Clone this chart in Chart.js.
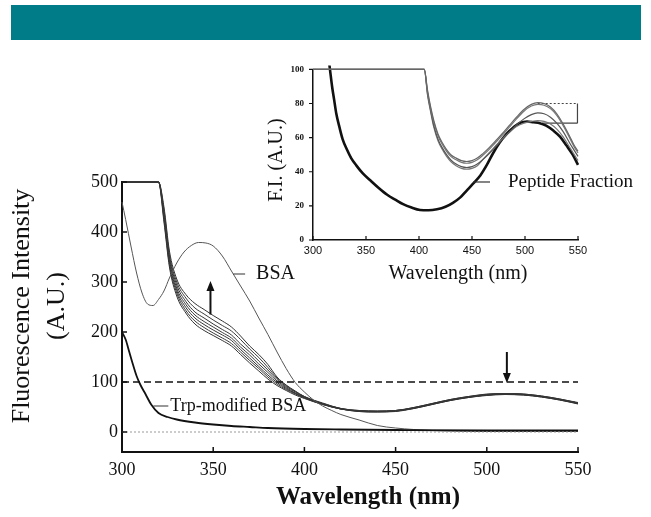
<!DOCTYPE html>
<html>
<head>
<meta charset="utf-8">
<script src="https://cdn.jsdelivr.net/npm/chart.js@4.4.1/dist/chart.umd.min.js"></script>
<style>
  body { margin: 0; background: #fff; }
  #wrap { position: relative; width: 651px; height: 517px; overflow: hidden; }
  #bar { position: absolute; left: 11px; top: 5px; width: 630px; height: 35px; background: #007b88; }
  #main { position: absolute; left: 0; top: 0; }
  #inset { position: absolute; left: 250px; top: 55px; }
</style>
</head>
<body>
<div id="wrap">
  <div id="bar"></div>
  <canvas id="main" width="651" height="517"></canvas>
  <canvas id="inset" width="396" height="235"></canvas>
</div>
<script>
// ---- main plot data ----
const wavelengths = [300, 320, 323, 326, 330, 335, 340, 345, 350, 355, 360, 365, 370, 375, 380, 385, 390, 395, 400, 410, 420, 430, 440, 450, 460, 470, 480, 490, 500, 510, 520, 530, 540, 550];
const peptide1 = [500, 500, 420, 330, 272, 238, 216, 203, 193, 183, 172, 155, 138, 122, 106, 93, 83, 74, 67, 55, 46, 41, 40, 41, 47, 55, 63, 69, 73, 75, 74, 70, 64, 56];
const peptide2 = [500, 500, 425, 335, 278, 243, 222, 209, 198, 188, 177, 160, 143, 127, 110, 96, 85, 76, 68, 55, 46, 41, 40, 42, 47, 55, 63, 69, 74, 75, 74, 70, 64, 57];
const peptide3 = [500, 500, 430, 340, 283, 249, 228, 215, 204, 194, 183, 165, 148, 131, 114, 99, 87, 77, 69, 56, 46, 42, 41, 42, 48, 56, 64, 70, 74, 76, 75, 71, 65, 57];
const peptide4 = [500, 500, 435, 345, 288, 255, 234, 221, 210, 199, 188, 170, 154, 136, 119, 102, 89, 78, 69, 56, 46, 42, 41, 42, 48, 56, 64, 70, 74, 76, 75, 71, 65, 58];
const peptide5 = [500, 500, 440, 350, 294, 261, 240, 228, 216, 205, 194, 176, 160, 142, 124, 105, 91, 80, 70, 57, 47, 42, 41, 43, 48, 56, 64, 70, 75, 76, 75, 71, 65, 58];
const peptide6 = [500, 500, 445, 355, 300, 268, 248, 236, 224, 213, 202, 185, 166, 149, 129, 108, 93, 81, 71, 57, 47, 43, 42, 43, 49, 57, 65, 71, 75, 77, 76, 72, 66, 58];
const peptide7 = [500, 500, 450, 362, 306, 275, 257, 245, 233, 222, 210, 192, 172, 155, 135, 110, 94, 82, 71, 58, 47, 43, 42, 43, 49, 57, 65, 71, 76, 77, 76, 72, 66, 59];

const bsaWavelengths = [300, 302, 305, 308, 311, 314, 317, 320, 323, 326, 330, 334, 338, 342, 346, 350, 355, 360, 365, 370, 375, 380, 385, 390, 395, 400, 405, 410, 415, 420, 430, 440, 450, 460, 470, 480, 500, 550];
const bsaIntensity = [460, 425, 370, 318, 278, 256, 253, 265, 282, 308, 338, 360, 373, 379, 378, 372, 352, 322, 292, 262, 228, 195, 160, 127, 99, 80, 64, 52, 43, 35, 24, 13, 8, 5, 3, 2, 1, 1];

const trpWavelengths = [300, 302, 304, 306, 308, 310, 313, 316, 320, 325, 330, 340, 350, 360, 370, 380, 400, 420, 450, 500, 550];
const trpIntensity = [200, 185, 160, 135, 112, 95, 75, 55, 38, 30, 25, 19, 15, 12, 10, 8, 6, 5, 4, 3, 3];

const refWavelengths = [300, 550];
const dashedLevel = [100, 100];
const zeroLevel = [0, 0];
const mainYTicks = [0, 100, 200, 300, 400, 500];

// ---- inset data ----
const insetThickX = [313, 316, 318, 320, 322, 325, 328, 332, 336, 341, 347, 354, 362, 370, 378, 385, 393, 401, 409, 417, 425, 432, 439, 445, 451, 458, 464, 470, 476, 483, 489, 495, 502, 508, 514, 520, 527, 533, 539, 545, 550];
const insetThickY = [115, 100, 90, 82, 74, 66, 59, 53, 48, 43.6, 39, 35, 30.5, 26.5, 23.5, 21, 19, 17.6, 17.4, 18, 19.5, 21.8, 25, 29, 33, 38, 44, 51, 57, 62.5, 66, 68.6, 69.5, 69, 68.5, 67, 64, 60.6, 55.5, 50, 44];
const insetGrayX = [300, 405, 408, 411, 414, 418, 422, 426, 430, 435, 440, 445, 450, 455, 460, 466, 472, 478, 485, 492, 499, 506, 512, 518, 524, 530, 536, 542, 546, 550];
const insetGray1 = [100, 100, 88, 78, 70, 62, 57, 53, 50, 48, 46.5, 46, 46.5, 48, 50.5, 54, 58, 62, 67, 72, 76.5, 79.5, 80.5, 80, 78, 74, 68, 61, 56, 52];
const insetGray2 = [100, 100, 87, 77, 69, 61, 56, 52, 49, 47, 45.5, 45, 45.5, 47, 49.5, 53, 57, 61, 66, 71, 75.5, 78.5, 79.5, 79, 77, 73, 67, 60, 55, 51];
const insetGray3 = [100, 100, 86, 76, 67, 59, 54, 50, 47, 44.5, 43, 42.5, 43, 44.5, 47, 50.5, 54.5, 58.5, 63, 67.5, 71, 73.5, 74.5, 74, 72, 68.5, 63.5, 57, 53, 49];
const insetGray4 = [100, 100, 85, 75, 66, 58, 53, 49, 46, 43.5, 42, 41.5, 42, 43.5, 47, 51, 55, 59, 63, 66.5, 68.5, 69.5, 70, 69.5, 68, 65, 60.5, 54.5, 50.5, 46.5];
const bracketTopX = [512, 549.5], bracketTopY = [80, 80];
const bracketSideX = [549.5, 549.5], bracketSideY = [80, 68.5];
const bracketLowX = [516, 549.5], bracketLowY = [68.5, 68.5];

const pts = (xs, ys) => xs.map((x, i) => ({ x: x, y: ys[i] }));
const serif = '"Liberation Serif", "Times New Roman", serif';

function line(data, color, width, dash) {
  return {
    data: data,
    borderColor: color,
    borderWidth: width,
    borderDash: dash || [],
    pointRadius: 0,
    fill: false,
    cubicInterpolationMode: 'monotone',
    clip: 4
  };
}

function arrow(ctx, x, y0, y1) {
  const dir = y1 > y0 ? 1 : -1;
  ctx.beginPath();
  ctx.moveTo(x, y0);
  ctx.lineTo(x, y1 - dir * 8);
  ctx.stroke();
  ctx.beginPath();
  ctx.moveTo(x, y1);
  ctx.lineTo(x - 4, y1 - dir * 10);
  ctx.lineTo(x + 4, y1 - dir * 10);
  ctx.closePath();
  ctx.fill();
}

// inward / outward tick marks
const tickMarks = {
  id: 'tickMarks',
  afterDraw(chart, args, opts) {
    const { ctx, chartArea } = chart;
    const x = chart.scales.x, y = chart.scales.y;
    ctx.save();
    ctx.strokeStyle = '#111';
    ctx.lineWidth = opts.width;
    ctx.beginPath();
    x.ticks.forEach(t => {
      const px = x.getPixelForValue(t.value);
      ctx.moveTo(px, chartArea.bottom);
      ctx.lineTo(px, chartArea.bottom - opts.xLen);
    });
    y.ticks.forEach(t => {
      const py = y.getPixelForValue(t.value);
      ctx.moveTo(chartArea.left, py);
      ctx.lineTo(chartArea.left + opts.yLen, py);
    });
    ctx.stroke();
    ctx.restore();
  }
};

const mainNotes = {
  id: 'mainNotes',
  afterDraw(chart) {
    const { ctx } = chart;
    const x = chart.scales.x, y = chart.scales.y;
    ctx.save();
    ctx.strokeStyle = '#111';
    ctx.fillStyle = '#111';
    ctx.lineWidth = 2;
    arrow(ctx, x.getPixelForValue(348.5), y.getPixelForValue(235), y.getPixelForValue(302));
    arrow(ctx, x.getPixelForValue(511), y.getPixelForValue(160), y.getPixelForValue(98));

    ctx.lineWidth = 1.2;
    ctx.strokeStyle = '#333';
    ctx.beginPath();
    ctx.moveTo(x.getPixelForValue(361), y.getPixelForValue(316));
    ctx.lineTo(x.getPixelForValue(367.5), y.getPixelForValue(316));
    ctx.moveTo(x.getPixelForValue(317.2), y.getPixelForValue(52));
    ctx.lineTo(x.getPixelForValue(325.4), y.getPixelForValue(52));
    ctx.stroke();

    ctx.textBaseline = 'middle';
    ctx.textAlign = 'left';
    ctx.font = '20px ' + serif;
    ctx.fillText('BSA', x.getPixelForValue(373.5), y.getPixelForValue(316));
    ctx.font = '18px ' + serif;
    ctx.fillText('Trp-modified BSA', x.getPixelForValue(326.5), y.getPixelForValue(51));

    // axis titles
    ctx.textAlign = 'center';
    ctx.font = 'bold 25px ' + serif;
    ctx.fillText('Wavelength (nm)', 368, 498);
    ctx.font = '26px ' + serif;
    ctx.translate(22, 306);
    ctx.rotate(-Math.PI / 2);
    ctx.fillText('Fluorescence Intensity', 0, 0);
    ctx.fillText('(A.U.)', 0, 35);
    ctx.restore();
  }
};

new Chart(document.getElementById('main'), {
  type: 'line',
  data: {
    datasets: [
      line(pts(refWavelengths, zeroLevel), '#999', 1, [2, 2]),
      line(pts(refWavelengths, dashedLevel), '#111', 1.5, [7, 4]),
      line(pts(trpWavelengths, trpIntensity), '#111', 1.8),
      line(pts(bsaWavelengths, bsaIntensity), '#555', 1),
      line(pts(wavelengths, peptide1), '#333', 1),
      line(pts(wavelengths, peptide2), '#3a3a3a', 1),
      line(pts(wavelengths, peptide3), '#333', 1),
      line(pts(wavelengths, peptide4), '#3a3a3a', 1),
      line(pts(wavelengths, peptide5), '#333', 1),
      line(pts(wavelengths, peptide6), '#3a3a3a', 1),
      line(pts(wavelengths, peptide7), '#333', 1)
    ]
  },
  options: {
    responsive: false,
    animation: false,
    layout: { padding: { top: 182, right: 73, left: 0, bottom: 0 } },
    plugins: {
      legend: { display: false },
      tooltip: { enabled: false },
      tickMarks: { width: 1.5, xLen: 5, yLen: 5 }
    },
    scales: {
      x: {
        type: 'linear', min: 300, max: 550,
        ticks: { stepSize: 50, padding: 7, color: '#111', font: { family: serif, size: 18 } },
        grid: { display: false, drawTicks: false },
        border: { display: true, color: '#111', width: 2 },
        afterFit: s => { s.height = 65; }
      },
      y: {
        type: 'linear', min: -40, max: 500,
        afterBuildTicks: s => { s.ticks = mainYTicks.map(v => ({ value: v })); },
        ticks: { padding: 4, color: '#111', font: { family: serif, size: 18 } },
        grid: { display: false, drawTicks: false },
        border: { display: true, color: '#111', width: 2 },
        afterFit: s => { s.width = 122; }
      }
    }
  },
  plugins: [tickMarks, mainNotes]
});

const insetNotes = {
  id: 'insetNotes',
  afterDraw(chart) {
    const { ctx } = chart;
    const x = chart.scales.x, y = chart.scales.y;
    ctx.save();
    ctx.strokeStyle = '#333';
    ctx.lineWidth = 1.2;
    ctx.beginPath();
    ctx.moveTo(x.getPixelForValue(451), y.getPixelForValue(34));
    ctx.lineTo(x.getPixelForValue(467), y.getPixelForValue(34));
    ctx.stroke();
    ctx.fillStyle = '#111';
    ctx.textBaseline = 'middle';
    ctx.font = '19px ' + serif;
    ctx.fillText('Peptide Fraction', x.getPixelForValue(484), y.getPixelForValue(34));

    ctx.textAlign = 'center';
    ctx.font = '20px ' + serif;
    ctx.fillText('Wavelength (nm)', 208, 219);
    ctx.translate(27, 105);
    ctx.rotate(-Math.PI / 2);
    ctx.fillText('F.I. (A.U.)', 0, 0);
    ctx.restore();
  }
};

new Chart(document.getElementById('inset'), {
  type: 'line',
  data: {
    datasets: [
      line(pts(insetGrayX, insetGray1), '#666', 1.2),
      line(pts(insetGrayX, insetGray2), '#777', 1.2),
      line(pts(insetGrayX, insetGray3), '#555', 1.2),
      line(pts(insetGrayX, insetGray4), '#777', 1.2),
      line(pts(insetThickX, insetThickY), '#111', 2.6),
      line(pts(bracketTopX, bracketTopY), '#444', 1, [2, 2]),
      line(pts(bracketSideX, bracketSideY), '#444', 1.2),
      line(pts(bracketLowX, bracketLowY), '#444', 1.2)
    ]
  },
  options: {
    responsive: false,
    animation: false,
    layout: { padding: { top: 9, right: 68, left: 0, bottom: 0 } },
    plugins: {
      legend: { display: false },
      tooltip: { enabled: false },
      tickMarks: { width: 1.2, xLen: 4, yLen: -4 }
    },
    scales: {
      x: {
        type: 'linear', min: 300, max: 550,
        ticks: { stepSize: 50, padding: 4, color: '#111', font: { family: '"Liberation Sans", Arial, sans-serif', size: 11 } },
        grid: { display: false, drawTicks: false },
        border: { display: true, color: '#111', width: 1.5 },
        afterFit: s => { s.height = 50; }
      },
      y: {
        type: 'linear', min: 0, max: 100,
        ticks: { stepSize: 20, padding: 9, color: '#111', font: { family: serif, size: 9, weight: 'bold' } },
        grid: { display: false, drawTicks: false },
        border: { display: true, color: '#111', width: 1.5 },
        afterFit: s => { s.width = 63; }
      }
    }
  },
  plugins: [tickMarks, insetNotes]
});
</script>
</body>
</html>
